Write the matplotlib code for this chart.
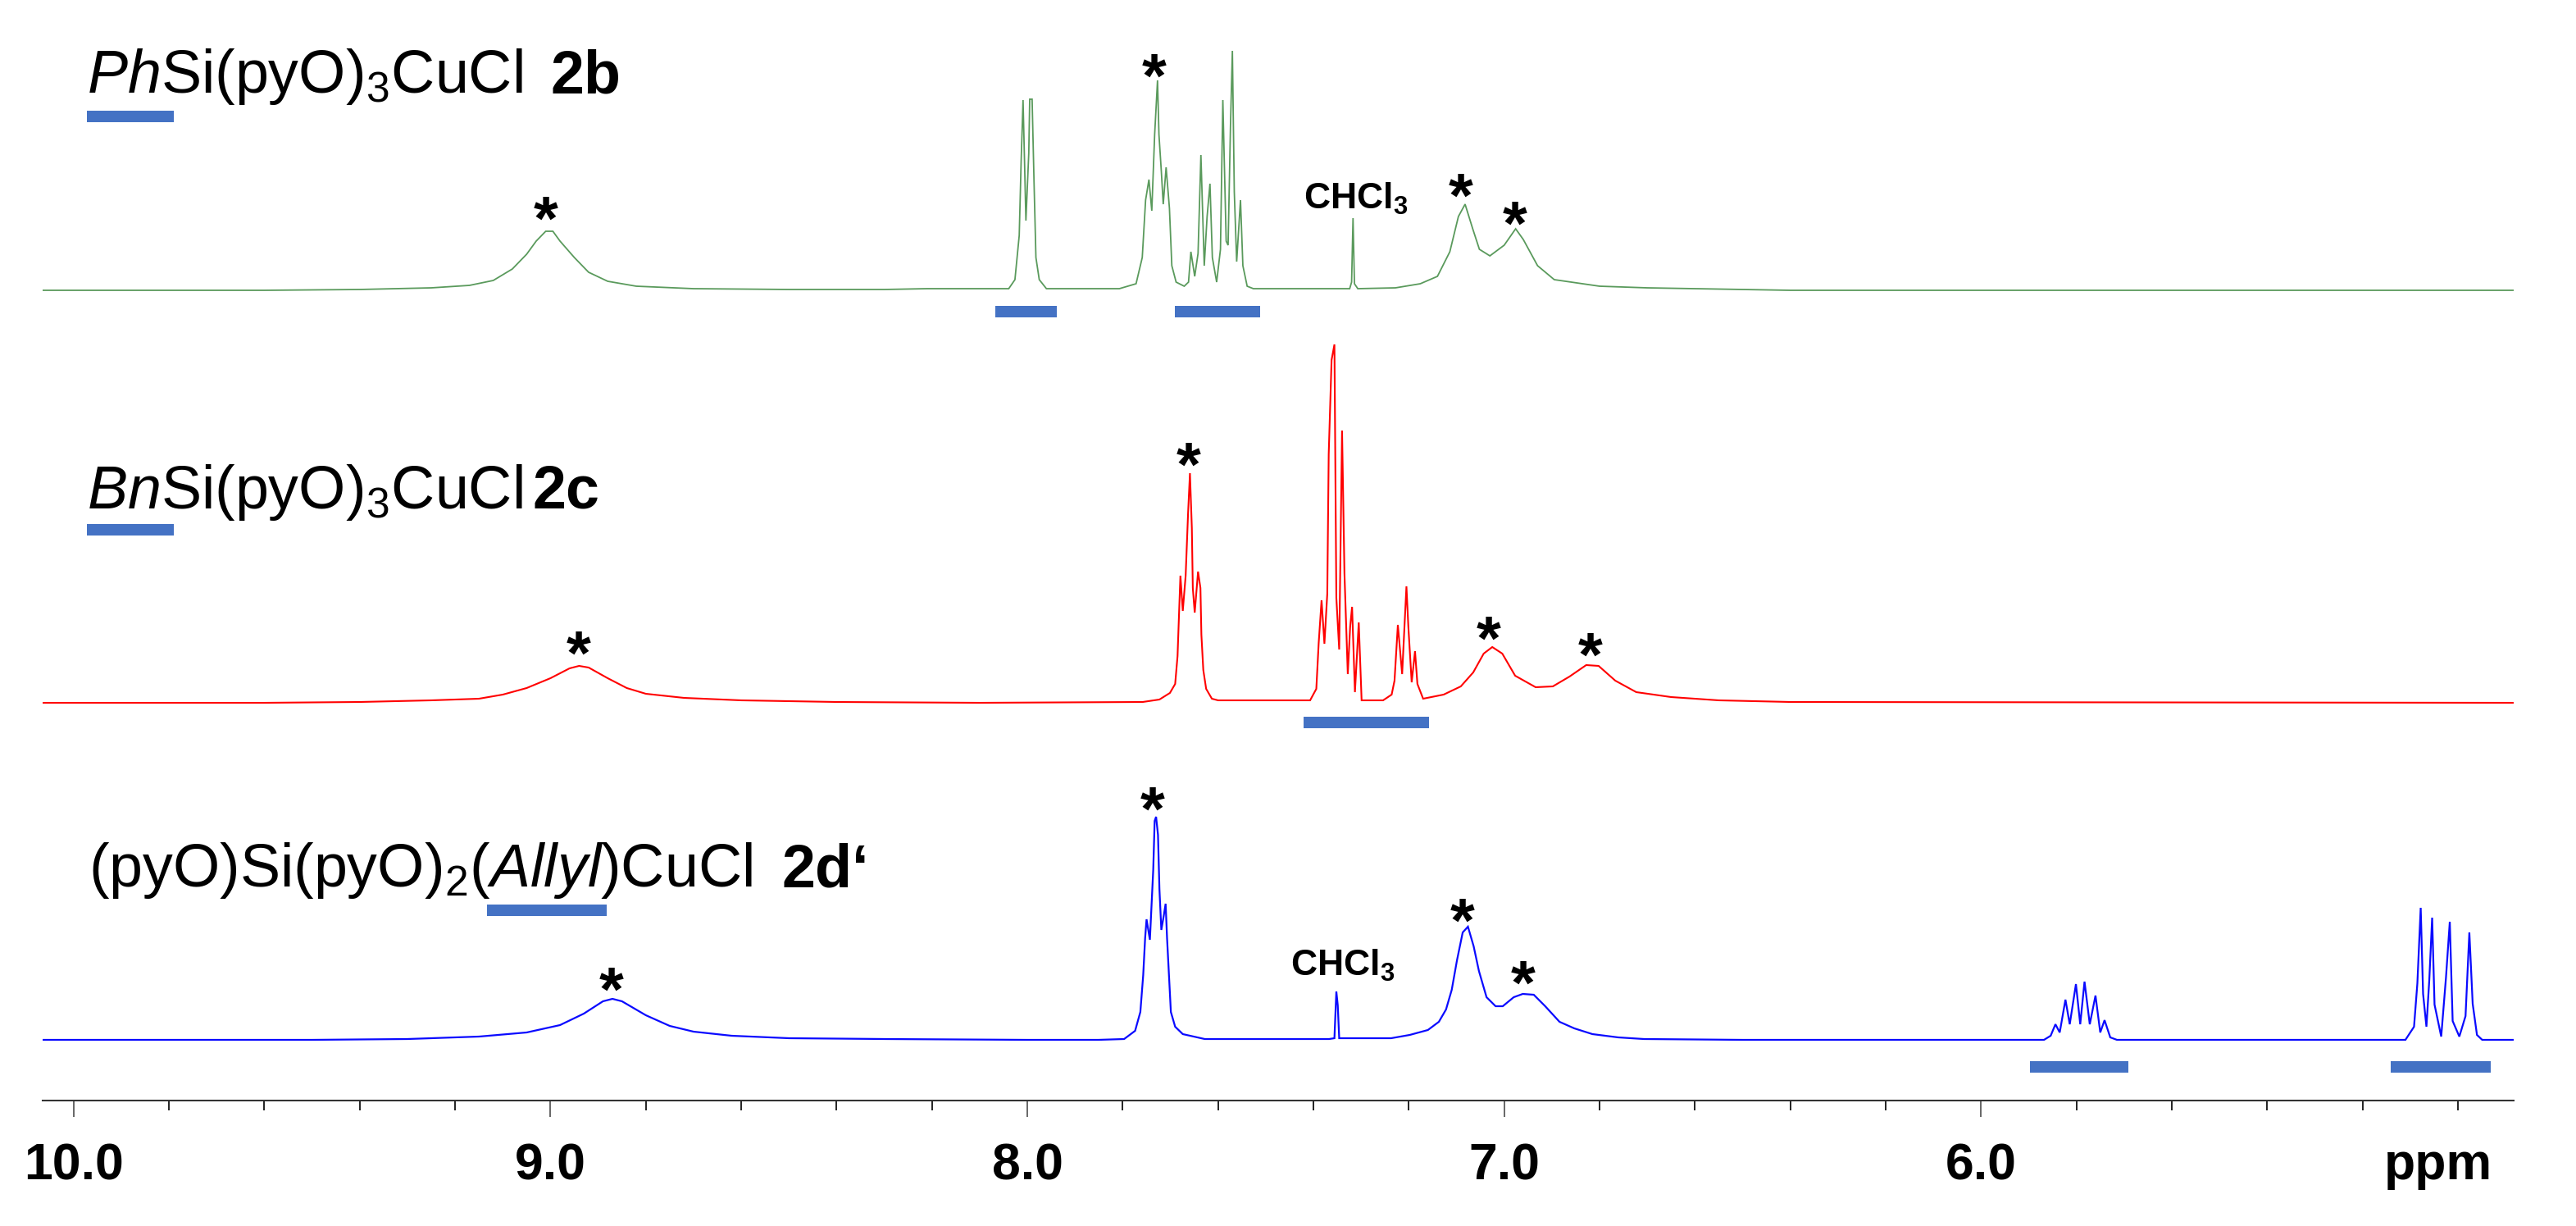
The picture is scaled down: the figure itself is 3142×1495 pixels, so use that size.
import matplotlib
matplotlib.use("Agg")
import matplotlib.pyplot as plt
from matplotlib.patches import Rectangle
from matplotlib.ticker import MultipleLocator

plt.rcParams['font.family'] = ['Liberation Sans', 'DejaVu Sans']
plt.rcParams['mathtext.fontset'] = 'custom'
plt.rcParams['mathtext.rm'] = 'Liberation Sans'
plt.rcParams['mathtext.it'] = 'Liberation Sans:italic'
plt.rcParams['mathtext.bf'] = 'Liberation Sans:bold'

# traces: shift in ppm, height above the spectrum's own baseline
greenPpm = [10.065, 9.6, 9.4, 9.25, 9.17, 9.12, 9.08, 9.05, 9.03, 9.01, 8.995, 8.98, 8.95, 8.92, 8.88, 8.82, 8.7, 8.5, 8.3,
            8.21, 8.039, 8.026, 8.017, 8.013, 8.009, 8.006, 8.003, 7.997, 7.995, 7.990, 7.986, 7.982, 7.975, 7.960,
            7.807, 7.772, 7.759, 7.752, 7.745, 7.739, 7.733, 7.727, 7.724, 7.719, 7.715, 7.709, 7.702, 7.697, 7.688,
            7.671, 7.662, 7.657, 7.649, 7.642, 7.636, 7.629, 7.623, 7.617, 7.612, 7.603, 7.595, 7.590, 7.583, 7.579,
            7.574, 7.570, 7.566, 7.561, 7.553, 7.548, 7.539, 7.526, 7.324, 7.320, 7.317, 7.314, 7.307, 7.228, 7.176,
            7.140, 7.114, 7.096, 7.082, 7.066, 7.052, 7.030, 7.000, 6.976, 6.960, 6.930, 6.895, 6.8, 6.7, 6.5, 6.4, 4.883]
greenHeight = [0, 0, 1, 3, 6, 12, 26, 44, 60, 72, 72, 60, 40, 22, 11, 5, 2, 1, 1,
               2, 2, 13, 67, 157, 232, 160, 85, 167, 233, 233, 133, 40, 13, 2,
               2, 8, 40, 110, 135, 97, 190, 256, 190, 145, 105, 150, 100, 30, 10,
               5, 10, 47, 17, 45, 165, 30, 90, 130, 40, 10, 50, 232, 60, 55,
               200, 292, 120, 35, 110, 30, 5, 2, 2, 10, 88, 8, 2, 3, 8,
               17, 47, 90, 105, 75, 50, 42, 55, 75, 62, 30, 13, 5, 3, 1, 0, 0]

redPpm = [10.065, 9.6, 9.4, 9.25, 9.15, 9.1, 9.05, 9.0, 8.96, 8.94, 8.92, 8.88, 8.84, 8.8, 8.72, 8.6, 8.4, 8.1,
          7.758, 7.723, 7.701, 7.690, 7.685, 7.683, 7.679, 7.674, 7.668, 7.663, 7.659, 7.655, 7.653, 7.649, 7.642,
          7.637, 7.635, 7.631, 7.625, 7.613, 7.600, 7.434, 7.407, 7.394, 7.389, 7.383, 7.377, 7.371, 7.368, 7.362,
          7.356, 7.352, 7.346, 7.340, 7.335, 7.328, 7.323, 7.319, 7.313, 7.305, 7.299, 7.254, 7.236, 7.230, 7.223,
          7.214, 7.205, 7.201, 7.194, 7.187, 7.182, 7.170, 7.127, 7.091, 7.065, 7.043, 7.025, 7.004, 6.977, 6.934,
          6.898, 6.863, 6.828, 6.802, 6.767, 6.723, 6.65, 6.55, 6.4, 4.883]
redHeight = [0, 0, 1, 3, 5, 10, 18, 30, 42, 45, 43, 30, 18, 11, 6, 3, 1, 0,
             1, 4, 12, 23, 57, 90, 155, 112, 155, 230, 280, 213, 140, 110, 160,
             140, 83, 40, 17, 5, 3, 3, 3, 17, 73, 125, 72, 133, 303, 418,
             437, 128, 65, 332, 158, 35, 93, 117, 13, 98, 3, 3, 10, 27, 95,
             35, 142, 93, 25, 63, 23, 5, 10, 20, 37, 60, 68, 60, 33, 19,
             20, 32, 46, 45, 27, 13, 7, 3, 1, 0]

bluePpm = [10.065, 9.5, 9.3, 9.15, 9.05, 8.98, 8.93, 8.89, 8.87, 8.85, 8.8, 8.75, 8.7, 8.62, 8.5, 8.3, 8.0,
           7.851, 7.797, 7.774, 7.763, 7.757, 7.753, 7.750, 7.743, 7.736, 7.733, 7.730, 7.726, 7.723, 7.719, 7.714,
           7.710, 7.707, 7.703, 7.699, 7.690, 7.674, 7.628, 7.367, 7.356, 7.352, 7.349, 7.346, 7.237, 7.198, 7.160,
           7.137, 7.122, 7.110, 7.099, 7.087, 7.076, 7.064, 7.053, 7.037, 7.018, 7.003, 6.980, 6.961, 6.938, 6.914,
           6.884, 6.853, 6.815, 6.761, 6.707, 6.5,
           5.868, 5.854, 5.844, 5.835, 5.823, 5.814, 5.801, 5.792, 5.783, 5.772, 5.760, 5.750, 5.741, 5.729, 5.715,
           5.110, 5.092, 5.085, 5.078, 5.073, 5.066, 5.060, 5.054, 5.049, 5.035, 5.025, 5.017, 5.011, 4.997, 4.984,
           4.976, 4.969, 4.960, 4.949, 4.883]
blueHeight = [0, 0, 1, 4, 9, 18, 32, 47, 50, 47, 30, 17, 10, 5, 2, 1, 0,
              0, 1, 11, 34, 79, 124, 147, 122, 207, 267, 272, 250, 184, 134, 151,
              166, 124, 79, 34, 16, 7, 1, 1, 2, 59, 42, 2, 2, 6, 12,
              22, 37, 61, 97, 131, 138, 114, 84, 52, 41, 41, 52, 56, 55, 41,
              22, 14, 7, 3, 1, 0,
              0, 5, 19, 9, 49, 19, 68, 19, 71, 19, 54, 9, 24, 3, 0,
              0, 16, 69, 161, 56, 16, 73, 149, 43, 4, 76, 144, 23, 4, 29,
              131, 44, 6, 0, 0]

# star peaks: ppm, height above the axis line
greenStarPpm = [9.01, 7.734, 7.091, 6.977]
greenStarY = [1094, 1268, 1122, 1088]
redStarPpm = [8.941, 7.662, 7.032, 6.819]
redStarY = [564, 794, 582, 562]
blueStarPpm = [8.872, 7.737, 7.087, 6.960]
blueStarY = [154, 374, 238, 162]

# integration bars under the spectra, ppm from/to
greenBars = [(8.067, 7.938), (7.691, 7.512)]
redBars = [(7.421, 7.158)]
blueBars = [(5.898, 5.691), (5.141, 4.931)]

tickValues = [10, 9, 8, 7, 6]
tickLabels = ['10.0', '9.0', '8.0', '7.0', '6.0']

GREEN = '#5a9a5c'
RED = '#ff0000'
BLUE = '#0a0aff'
BAR = '#4472c4'
WIDTH, HEIGHT = 3142, 1495
AXIS_PX = 1342

spectra = [(greenPpm, greenHeight, 988, GREEN, 1.3, greenStarPpm, greenStarY, greenBars, 962),
           (redPpm, redHeight, 485, RED, 1.5, redStarPpm, redStarY, redBars, 461),
           (bluePpm, blueHeight, 74, BLUE, 1.6, blueStarPpm, blueStarY, blueBars, 41)]

fig = plt.figure(figsize=(WIDTH / 100, HEIGHT / 100), dpi=100)

# overlay in image pixels for the compound names
over = fig.add_axes([0, 0, 1, 1])
over.set_xlim(0, WIDTH)
over.set_ylim(HEIGHT, 0)
over.axis('off')

left, right = 52, 3066
ax = fig.add_axes([left / WIDTH, 1 - AXIS_PX / HEIGHT, (right - left) / WIDTH, AXIS_PX / HEIGHT])
ax.patch.set_alpha(0)
ax.set_xlim(10.065, 4.883)
ax.set_ylim(0, AXIS_PX)

for ppm, height, base, color, lw, starPpm, starY, bars, barY in spectra:
    ax.plot(ppm, [h + base for h in height], color=color, lw=lw, solid_joinstyle='miter')
    for x, y in zip(starPpm, starY):
        ax.text(x, y - 44, '*', fontsize=55, fontweight='bold', ha='center', va='baseline')
    for start, stop in bars:
        ax.add_patch(Rectangle((start, barY - 7), stop - start, 14, color=BAR, lw=0))

for side in ['top', 'left', 'right']:
    ax.spines[side].set_visible(False)
ax.spines['bottom'].set_linewidth(1.5)
ax.spines['bottom'].set_color('#333333')
ax.set_yticks([])
ax.set_xticks(tickValues)
ax.set_xticklabels(tickLabels, fontsize=45, fontweight='bold')
ax.xaxis.set_minor_locator(MultipleLocator(0.2))
ax.tick_params(axis='x', which='major', length=14.4, width=1.4, color='#666666', pad=22)
ax.tick_params(axis='x', which='minor', length=8.6, width=1.4, color='#222222')

names = [(r'$\mathit{Ph}\mathrm{Si(pyO)_3CuCl}$', 106, 113, '2b', 672),
         (r'$\mathit{Bn}\mathrm{Si(pyO)_3CuCl}$', 106, 620, '2c', 650),
         (r'$\mathrm{(pyO)Si(pyO)_2(}\mathit{Allyl}\mathrm{)CuCl}$', 108, 1081, '2d\u2018', 954)]
for name, x, y, code, codeX in names:
    over.text(x, y, name, fontsize=53, va='baseline')
    over.text(codeX, y, code, fontsize=53, fontweight='bold', va='baseline')

titleBars = [(106, 212, 142), (106, 212, 646), (594, 740, 1110)]
for x0, x1, y in titleBars:
    over.add_patch(Rectangle((x0, y - 7), x1 - x0, 14, color=BAR, lw=0))

over.text(1590, 255, r'$\mathbf{CHCl_3}$', fontsize=32, va='baseline')
over.text(1574, 1190, r'$\mathbf{CHCl_3}$', fontsize=32, va='baseline')
over.text(2974, 1438, 'ppm', fontsize=45, fontweight='bold', ha='center', va='baseline')

fig.savefig('out.png', dpi=100)
